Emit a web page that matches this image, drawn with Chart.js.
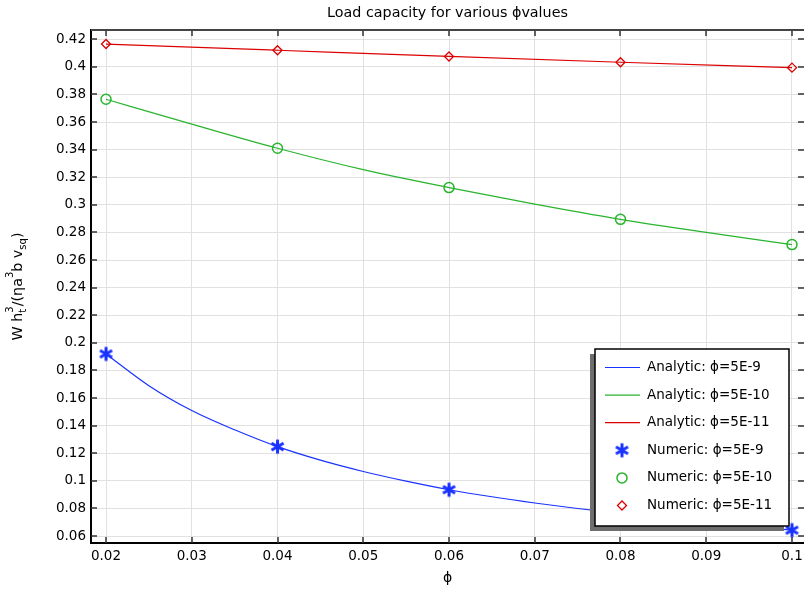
<!DOCTYPE html>
<html>
<head>
<meta charset="utf-8">
<script src="https://cdn.jsdelivr.net/npm/chart.js@4.4.1/dist/chart.umd.min.js"></script>
<style>
  html, body { margin: 0; padding: 0; background: #fff; overflow: hidden; }
  #wrap { width: 804px; height: 591px; }
</style>
</head>
<body>
<div id="wrap"><canvas id="chart"></canvas></div>
<script>
// analytic curves
const phiA1 = [0.02, 0.025, 0.03, 0.035, 0.04, 0.045, 0.05, 0.055, 0.06, 0.065, 0.07, 0.075, 0.08, 0.085, 0.09, 0.095, 0.1];
const loadA1 = [0.192, 0.169, 0.151, 0.137, 0.1248, 0.115, 0.1068, 0.0998, 0.0936, 0.0885, 0.0840, 0.0800, 0.0765, 0.0732, 0.0700, 0.0670, 0.0643];
const phiA2 = [0.02, 0.03, 0.04, 0.05, 0.06, 0.07, 0.08, 0.09, 0.1];
const loadA2 = [0.3765, 0.3585, 0.3410, 0.3255, 0.3125, 0.3005, 0.2895, 0.2800, 0.2712];
const phiA3 = [0.02, 0.04, 0.06, 0.08, 0.1];
const loadA3 = [0.4165, 0.4120, 0.4075, 0.4033, 0.3994];

// numeric solutions
const phiNum = [0.02, 0.04, 0.06, 0.08, 0.1];
const loadN1 = [0.1920, 0.1248, 0.0936, 0.0765, 0.0643];
const loadN2 = [0.3765, 0.3410, 0.3125, 0.2895, 0.2712];
const loadN3 = [0.4165, 0.4120, 0.4075, 0.4033, 0.3994];

const seriesNames = ['Analytic: ϕ=5E-9', 'Analytic: ϕ=5E-10', 'Analytic: ϕ=5E-11',
                     'Numeric: ϕ=5E-9', 'Numeric: ϕ=5E-10', 'Numeric: ϕ=5E-11'];
const titleText = 'Load capacity for various ϕvalues';
const xTitle = 'ϕ';
// y title pieces: plain text, superscript, subscript
const yTitleParts = [
  {t: 'W h'}, {sup: '3', sub: 't'}, {t: '/(ηa'}, {sup: '3'}, {t: 'b v'}, {sub: 'sq'}, {t: ')'}
];
const xTickStep = 0.01;
const yTickStep = 0.02;

const BLUE = 'rgb(25,50,255)';
const GREEN = 'rgb(40,180,45)';
const RED = 'rgb(220,0,0)';
const FONT = '"DejaVu Sans", sans-serif';
const TICK_FONT = '13.5px ' + FONT;

// six armed asterisk used for the numeric 5E-9 points
function makeAsterisk(color, r, lw) {
  const c = document.createElement('canvas');
  const s = Math.ceil(2 * r + lw + 2);
  c.width = s; c.height = s;
  const g = c.getContext('2d');
  g.strokeStyle = color;
  g.lineWidth = lw;
  g.lineCap = 'butt';
  g.beginPath();
  for (let k = 0; k < 3; k++) {
    const ang = Math.PI / 2 + k * Math.PI / 3;
    const dx = Math.cos(ang) * r, dy = Math.sin(ang) * r;
    g.moveTo(s / 2 - dx, s / 2 - dy);
    g.lineTo(s / 2 + dx, s / 2 + dy);
  }
  g.stroke();
  return c;
}

function toPoints(xs, ys) {
  let pts = [];
  for (let i = 0; i < xs.length; i++) {
    pts.push({x: xs[i], y: ys[i]});
  }
  return pts;
}

function lineSet(label, xs, ys, color) {
  return {
    label: label, data: toPoints(xs, ys), showLine: true,
    borderColor: color, backgroundColor: color, borderWidth: 1.2,
    pointRadius: 0, cubicInterpolationMode: 'monotone', isLine: true
  };
}

function pointSet(label, xs, ys, color, style, radius, width) {
  return {
    label: label, data: toPoints(xs, ys), showLine: false,
    borderColor: color, backgroundColor: 'rgba(0,0,0,0)',
    pointStyle: style, pointRadius: radius, pointBorderWidth: width, isLine: false
  };
}

function fmt(v) {
  return String(Number(v.toFixed(4)));
}

// y axis title with sub/superscripts
const yTitlePlugin = {
  id: 'yTitle',
  afterDraw(chart) {
    const ctx = chart.ctx;
    const a = chart.chartArea;
    const big = '14.3px ' + FONT;
    const small = '10px ' + FONT;
    let widths = [];
    let total = 0;
    for (const p of yTitleParts) {
      let w;
      if (p.t) {
        ctx.font = big; w = ctx.measureText(p.t).width;
      } else {
        ctx.font = small;
        w = Math.max(p.sup ? ctx.measureText(p.sup).width : 0, p.sub ? ctx.measureText(p.sub).width : 0);
      }
      widths.push(w);
      total += w;
    }
    ctx.save();
    ctx.translate(22, (a.top + a.bottom) / 2);
    ctx.rotate(-Math.PI / 2);
    ctx.fillStyle = '#000';
    ctx.textBaseline = 'alphabetic';
    ctx.textAlign = 'left';
    let x = -total / 2;
    yTitleParts.forEach((p, i) => {
      if (p.t) {
        ctx.font = big; ctx.fillText(p.t, x, 0);
      } else {
        ctx.font = small;
        if (p.sup) ctx.fillText(p.sup, x, -9);
        if (p.sub) ctx.fillText(p.sub, x, 3.5);
      }
      x += widths[i];
    });
    ctx.restore();
  }
};

// x tick labels, inward tick marks and top frame
const framePlugin = {
  id: 'frame',
  afterDraw(chart) {
    const ctx = chart.ctx;
    const a = chart.chartArea;
    const xs = chart.scales.x, ys = chart.scales.y;
    ctx.save();
    ctx.fillStyle = '#000';
    ctx.font = TICK_FONT;
    ctx.textAlign = 'center';
    ctx.textBaseline = 'top';
    xs.ticks.forEach(t => {
      ctx.fillText(fmt(t.value), xs.getPixelForValue(t.value), a.bottom + 7);
    });
    ctx.strokeStyle = '#333';
    ctx.lineWidth = 1.5;
    ctx.beginPath();
    xs.ticks.forEach(t => {
      const px = Math.round(xs.getPixelForValue(t.value));
      ctx.moveTo(px, a.bottom); ctx.lineTo(px, a.bottom - 6);
      ctx.moveTo(px, a.top); ctx.lineTo(px, a.top + 6);
    });
    ys.ticks.forEach(t => {
      const py = Math.round(ys.getPixelForValue(t.value));
      ctx.moveTo(a.left, py); ctx.lineTo(a.left + 6, py);
      ctx.moveTo(a.right, py); ctx.lineTo(a.right - 6, py);
    });
    ctx.stroke();
    // top frame line (the right one falls just outside the picture)
    ctx.strokeStyle = '#444';
    ctx.lineWidth = 2;
    ctx.beginPath();
    ctx.moveTo(a.left, a.top); ctx.lineTo(a.right, a.top);
    ctx.stroke();
    ctx.restore();
  }
};

// legend box inside the plot, lower right
const legendPlugin = {
  id: 'boxLegend',
  afterDatasetsDraw(chart) {
    const ctx = chart.ctx;
    const a = chart.chartArea;
    const w = 194, h = 177;
    const x0 = a.right - 15 - w;
    const y0 = a.bottom - 17 - h;
    ctx.save();
    ctx.fillStyle = 'rgb(110,110,110)';
    ctx.fillRect(x0 - 5, y0 + 5, w, h);
    ctx.fillStyle = '#fff';
    ctx.fillRect(x0, y0, w, h);
    ctx.strokeStyle = '#000';
    ctx.lineWidth = 1.5;
    ctx.strokeRect(x0, y0, w, h);
    ctx.font = '13.5px ' + FONT;
    ctx.textBaseline = 'middle';
    ctx.textAlign = 'left';
    chart.data.datasets.forEach((ds, i) => {
      const cy = y0 + 18.5 + i * 27.6;
      if (ds.isLine) {
        ctx.strokeStyle = ds.borderColor;
        ctx.lineWidth = 1.2;
        ctx.beginPath();
        ctx.moveTo(x0 + 10, cy); ctx.lineTo(x0 + 45, cy);
        ctx.stroke();
      } else {
        ctx.strokeStyle = ds.borderColor;
        ctx.fillStyle = 'rgba(0,0,0,0)';
        ctx.lineWidth = ds.pointBorderWidth;
        Chart.helpers.drawPoint(ctx, {
          pointStyle: ds.pointStyle, radius: ds.pointRadius,
          borderWidth: ds.pointBorderWidth, rotation: 0
        }, x0 + 27, cy);
      }
      ctx.fillStyle = '#000';
      ctx.fillText(ds.label, x0 + 52, cy);
    });
    ctx.restore();
  }
};

new Chart(document.getElementById('chart'), {
  type: 'scatter',
  data: {
    datasets: [
      lineSet(seriesNames[0], phiA1, loadA1, BLUE),
      lineSet(seriesNames[1], phiA2, loadA2, GREEN),
      lineSet(seriesNames[2], phiA3, loadA3, RED),
      pointSet(seriesNames[3], phiNum, loadN1, BLUE, makeAsterisk(BLUE, 7, 3), 7, 3),
      pointSet(seriesNames[4], phiNum, loadN2, GREEN, 'circle', 5, 1.5),
      pointSet(seriesNames[5], phiNum, loadN3, RED, 'rectRot', 4.5, 1.3)
    ]
  },
  options: {
    responsive: true,
    maintainAspectRatio: false,
    animation: false,
    layout: { padding: 0, autoPadding: false },
    plugins: {
      legend: { display: false },
      tooltip: { enabled: false },
      title: {
        display: true, text: titleText, color: '#000', fullSize: false,
        font: { family: FONT, size: 14.3, weight: 'normal' },
        padding: { top: 5, bottom: 7.8 }
      }
    },
    scales: {
      x: {
        type: 'linear', min: 0.01825, max: 0.1014,
        ticks: { stepSize: xTickStep, includeBounds: false, display: false },
        grid: { color: 'rgb(225,225,225)', drawTicks: false },
        border: { color: '#000', width: 2 },
        title: {
          display: true, text: xTitle, color: '#000',
          font: { family: FONT, size: 14 }, padding: { top: 0, bottom: 4 }
        },
        afterFit(s) { s.height = 48; }
      },
      y: {
        type: 'linear', min: 0.055, max: 0.4267,
        ticks: {
          stepSize: yTickStep, includeBounds: false, autoSkip: false,
          padding: 5, color: '#000', font: { family: FONT, size: 13.5 }, callback: fmt
        },
        grid: { color: 'rgb(225,225,225)', drawTicks: false },
        border: { color: '#000', width: 2 },
        afterFit(s) { s.width = 91; s.paddingTop = 0; s.paddingBottom = 0; }
      }
    }
  },
  plugins: [legendPlugin, framePlugin, yTitlePlugin]
});
</script>
</body>
</html>
